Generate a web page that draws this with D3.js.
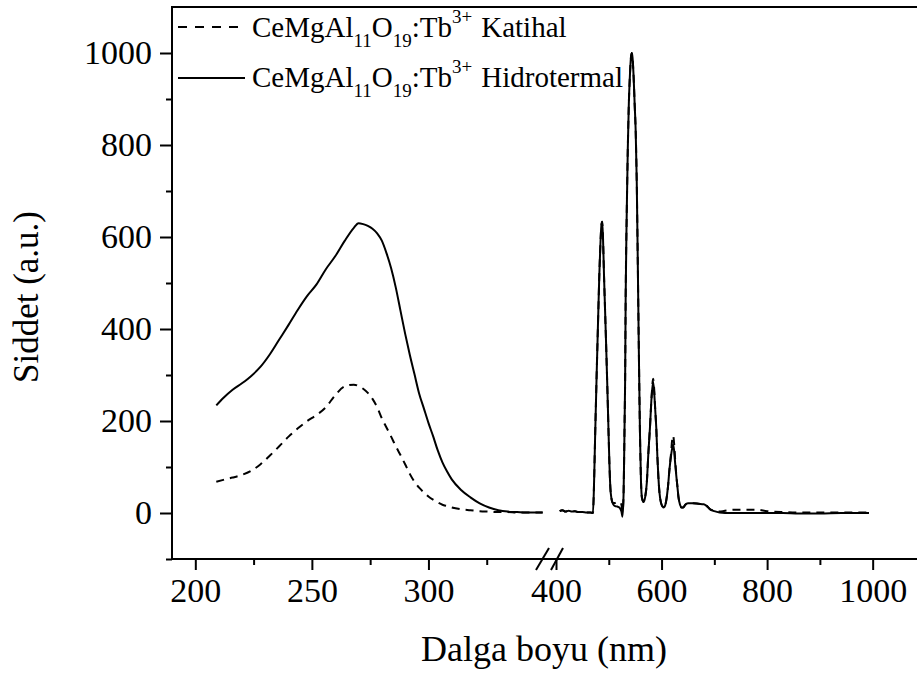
<!DOCTYPE html>
<html>
<head>
<meta charset="utf-8">
<script src="https://cdn.jsdelivr.net/npm/d3@7"></script>
<style>
  body { margin: 0; background: #fff; }
  svg { display: block; font-family: "Liberation Serif", "Times New Roman", serif; }
  .axis path { display: none; }
  .axis line { stroke: #000; stroke-width: 2; }
  .axis text { font-size: 34px; fill: #000; font-family: "Liberation Serif", "Times New Roman", serif; }
</style>
</head>
<body>
<svg id="chart" width="917" height="675"></svg>
<script>
// wavelength (nm) and intensity (a.u.), left part of the broken axis
const leftNm = [209, 212, 216, 220, 224, 228, 232, 236, 240, 244, 248, 252, 256, 260, 264, 268, 270, 272, 274, 276,
  278, 280, 282, 284, 286, 288, 290, 292, 294, 296, 298, 300, 302, 304, 306, 308, 310, 314, 318, 322,
  326, 330, 334, 338, 342, 349];
const katihalLeft = [68, 72, 77, 83, 92, 106, 125, 145, 166, 184, 200, 213, 230, 256, 275, 279, 276, 270, 261, 248,
  230, 206, 186, 166, 145, 126, 106, 85, 68, 55, 45, 36, 29, 23, 18, 15, 12, 8, 6, 4,
  3, 2, 2, 1, 1, 1];
const hidroLeft = [234, 250, 268, 282, 298, 318, 345, 377, 409, 442, 472, 497, 530, 558, 591, 620, 630, 628, 624, 618,
  608, 592, 565, 532, 490, 440, 390, 344, 302, 260, 228, 196, 167, 136, 110, 90, 73, 50, 34, 21,
  12, 6, 3, 2, 1, 1];

// right part of the broken axis
const rightNm = [407, 412, 418, 424, 430, 436, 442, 450, 458, 465, 470, 472, 474, 477, 480, 482, 484, 486, 487.5, 489,
  491, 493, 495, 497, 499, 501, 503, 505, 508, 512, 516, 520, 524, 526, 528, 529, 530, 531, 532, 534,
  536, 538, 540, 542, 543.5, 545, 547, 549, 551, 553, 555, 557, 559, 561, 563, 566, 569, 572, 575, 578,
  581, 584, 586, 588, 590, 592, 594, 596, 599, 602, 604, 606, 609, 612, 615, 618, 620, 622, 624, 626,
  628, 630, 632, 635, 638, 641, 645, 650, 660, 670, 680, 686, 692, 700, 710, 720, 740, 760, 780, 800,
  830, 860, 900, 940, 970, 993];
const katihalRight = [4, 6, 3, 5, 3, 4, 2, 2, 1, 1, 0, 60, 160, 300, 430, 515, 580, 625, 633, 600,
  515, 440, 365, 285, 200, 115, 55, 32, 22, 22, 24, 24, 18, 2, 40, 110, 200, 290, 470, 650,
  790, 890, 950, 990, 1000, 990, 950, 890, 830, 720, 540, 350, 180, 70, 32, 24, 35, 65, 130, 185,
  250, 292, 270, 225, 185, 125, 78, 45, 22, 14, 12, 14, 28, 55, 95, 130, 158, 168, 148, 112,
  82, 58, 35, 18, 12, 12, 18, 21, 21, 20, 19, 15, 8, 5, 3, 5, 7, 7, 7, 4,
  2, 1, 1, 1, 1, 1];
const hidroRight = [4, 6, 3, 5, 3, 4, 2, 2, 1, 1, 0, 60, 160, 300, 430, 515, 580, 625, 633, 600,
  515, 440, 365, 285, 200, 115, 55, 32, 20, 15, 14, 12, 3, -8, 40, 110, 200, 290, 470, 650,
  790, 890, 950, 990, 1000, 990, 950, 890, 830, 720, 540, 350, 180, 70, 32, 24, 35, 65, 130, 185,
  250, 285, 262, 225, 185, 125, 78, 45, 22, 14, 12, 14, 28, 55, 95, 125, 140, 149, 133, 105,
  80, 58, 35, 18, 12, 12, 18, 21, 21, 20, 19, 15, 8, 4, 1, 0, 0, 0, 0, 0,
  0, -1, -1, 0, 0, 0];

const leftMajor = [200, 250, 300], leftMinor = [225, 275, 325];
const rightMajor = [400, 600, 800, 1000], rightMinor = [500, 700, 900];
const yMajor = [0, 200, 400, 600, 800, 1000], yMinor = [-100, 100, 300, 500, 700, 900];

const svg = d3.select("#chart");
svg.append("rect").attr("width", 917).attr("height", 675).attr("fill", "#fff");

const plotL = 172, plotT = 7, plotB = 559, plotR = 917, breakAt = 545, resume = 556;
const fmt = d3.format("d");

const xL = d3.scaleLinear().domain([190, 350]).range([plotL, breakAt]);
const xR = d3.scaleLinear().domain([400, 1084]).range([resume, plotR]);
const y = d3.scaleLinear().domain([-100, 1100]).range([plotB, plotT]);

// axes
svg.append("g").attr("class", "axis").attr("transform", `translate(0,${plotB})`)
  .call(d3.axisBottom(xL).tickValues(leftMinor).tickSize(6).tickFormat(""));
svg.append("g").attr("class", "axis").attr("transform", `translate(0,${plotB})`)
  .call(d3.axisBottom(xL).tickValues(leftMajor).tickSize(11).tickFormat(fmt));
svg.append("g").attr("class", "axis").attr("transform", `translate(0,${plotB})`)
  .call(d3.axisBottom(xR).tickValues(rightMinor).tickSize(6).tickFormat(""));
svg.append("g").attr("class", "axis").attr("transform", `translate(0,${plotB})`)
  .call(d3.axisBottom(xR).tickValues(rightMajor).tickSize(11).tickFormat(fmt));

svg.selectAll(".axis text").attr("y", 43).attr("dy", 0);

svg.append("g").attr("class", "axis").attr("transform", `translate(${plotL},0)`)
  .call(d3.axisLeft(y).tickValues(yMinor).tickSize(6).tickFormat(""));
svg.append("g").attr("class", "axis").attr("transform", `translate(${plotL},0)`)
  .call(d3.axisLeft(y).tickValues(yMajor).tickSize(12).tickPadding(8).tickFormat(fmt));

// frame lines
svg.append("line").attr("x1", plotL).attr("x2", plotR).attr("y1", plotB).attr("y2", plotB)
  .attr("stroke", "#000").attr("stroke-width", 2);
svg.append("line").attr("x1", plotL).attr("x2", plotR).attr("y1", plotT).attr("y2", plotT)
  .attr("stroke", "#000").attr("stroke-width", 2);
svg.append("line").attr("x1", plotL).attr("x2", plotL).attr("y1", plotT - 1).attr("y2", plotB + 1)
  .attr("stroke", "#000").attr("stroke-width", 2);

// break marks
[[536, 549], [551, 563]].forEach(([a, b]) => {
  svg.append("line").attr("x1", a).attr("y1", plotB + 11).attr("x2", b).attr("y2", plotB - 11)
    .attr("stroke", "#000").attr("stroke-width", 2);
});

// curves
function drawSeries(xs, vs, scale, dashed) {
  const pts = xs.map((d, i) => [d, vs[i]]);
  const line = d3.line().x(d => scale(d[0])).y(d => y(d[1])).curve(d3.curveMonotoneX);
  svg.append("path").datum(pts).attr("d", line)
    .attr("fill", "none").attr("stroke", "#000").attr("stroke-width", 2)
    .attr("stroke-dasharray", dashed ? "8,6" : null);
}
drawSeries(leftNm, katihalLeft, xL, true);
drawSeries(rightNm, katihalRight, xR, true);
drawSeries(leftNm, hidroLeft, xL, false);
drawSeries(rightNm, hidroRight, xR, false);

// legend
function legendRow(yLine, yText, name, dashed) {
  svg.append("line").attr("x1", 178).attr("x2", 245).attr("y1", yLine).attr("y2", yLine)
    .attr("stroke", "#000").attr("stroke-width", 2).attr("stroke-dasharray", dashed ? "9,8" : null);
  const t = svg.append("text").attr("x", 252).attr("y", yText).attr("font-size", 29).attr("fill", "#000");
  t.append("tspan").text("CeMgAl");
  t.append("tspan").attr("dy", 10).attr("font-size", 19).text("11");
  t.append("tspan").attr("dy", -10).text("O");
  t.append("tspan").attr("dy", 10).attr("font-size", 19).text("19");
  t.append("tspan").attr("dy", -10).text(":Tb");
  t.append("tspan").attr("dy", -14).attr("font-size", 19).text("3+");
  t.append("tspan").attr("dy", 14).attr("dx", 9).text(name);
}
legendRow(27, 37, "Katihal", true);
legendRow(78, 87, "Hidrotermal", false);

// axis titles
svg.append("text").attr("x", 544).attr("y", 661).attr("text-anchor", "middle")
  .attr("font-size", 36).text("Dalga boyu (nm)");
svg.append("text").attr("transform", "translate(38,297) rotate(-90)").attr("text-anchor", "middle")
  .attr("font-size", 35).text("Siddet (a.u.)");
</script>
</body>
</html>
